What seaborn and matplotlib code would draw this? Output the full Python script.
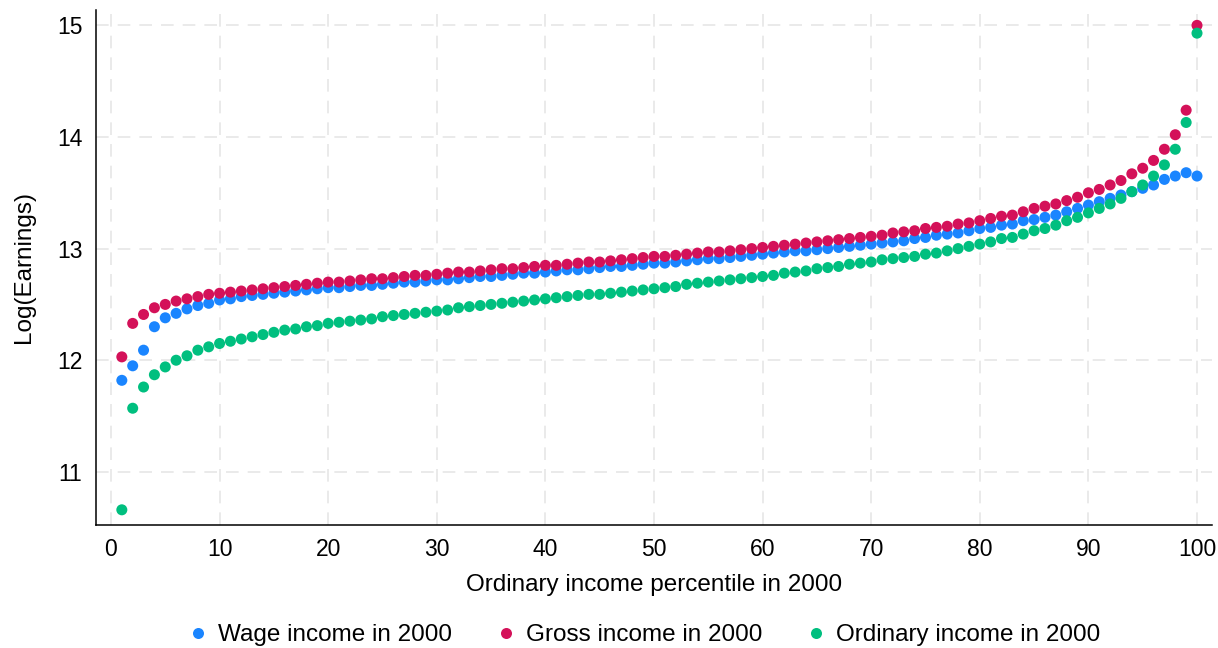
import numpy as np
import pandas as pd
import matplotlib
matplotlib.use("Agg")
import matplotlib.pyplot as plt
import seaborn as sns

# percentiles 1..100
percentile = list(range(1, 101))

wage_2000 = [
    11.82, 11.95, 12.09, 12.30, 12.38, 12.42, 12.46, 12.49, 12.51, 12.54,
    12.55, 12.57, 12.58, 12.59, 12.60, 12.61, 12.62, 12.63, 12.64, 12.65,
    12.65, 12.66, 12.67, 12.67, 12.68, 12.69, 12.70, 12.70, 12.71, 12.72,
    12.72, 12.73, 12.74, 12.75, 12.75, 12.76, 12.77, 12.78, 12.78, 12.79,
    12.80, 12.81, 12.81, 12.82, 12.83, 12.84, 12.84, 12.85, 12.86, 12.87,
    12.87, 12.88, 12.89, 12.90, 12.91, 12.91, 12.92, 12.93, 12.94, 12.95,
    12.96, 12.97, 12.98, 12.98, 12.99, 13.00, 13.01, 13.02, 13.03, 13.04,
    13.05, 13.06, 13.07, 13.09, 13.10, 13.12, 13.13, 13.14, 13.16, 13.18,
    13.19, 13.21, 13.22, 13.25, 13.26, 13.28, 13.30, 13.33, 13.36, 13.39,
    13.42, 13.45, 13.48, 13.51, 13.54, 13.57, 13.62, 13.65, 13.68, 13.65,
]

gross_2000 = [
    12.03, 12.33, 12.41, 12.47, 12.50, 12.53, 12.55, 12.57, 12.59, 12.60,
    12.61, 12.62, 12.63, 12.64, 12.65, 12.66, 12.67, 12.68, 12.69, 12.70,
    12.70, 12.71, 12.72, 12.73, 12.73, 12.74, 12.75, 12.76, 12.76, 12.77,
    12.78, 12.79, 12.79, 12.80, 12.81, 12.82, 12.82, 12.83, 12.84, 12.85,
    12.85, 12.86, 12.87, 12.88, 12.88, 12.89, 12.90, 12.91, 12.92, 12.93,
    12.93, 12.94, 12.95, 12.96, 12.97, 12.97, 12.98, 12.99, 13.00, 13.01,
    13.02, 13.03, 13.04, 13.05, 13.06, 13.07, 13.08, 13.09, 13.10, 13.11,
    13.12, 13.14, 13.15, 13.16, 13.18, 13.19, 13.20, 13.22, 13.23, 13.25,
    13.27, 13.29, 13.30, 13.33, 13.36, 13.38, 13.40, 13.43, 13.46, 13.50,
    13.53, 13.57, 13.61, 13.67, 13.72, 13.79, 13.89, 14.02, 14.24, 15.00,
]

ordinary_2000 = [
    10.66, 11.57, 11.76, 11.87, 11.94, 12.00, 12.04, 12.09, 12.12, 12.15,
    12.17, 12.19, 12.21, 12.23, 12.25, 12.27, 12.28, 12.30, 12.31, 12.33,
    12.34, 12.35, 12.36, 12.37, 12.39, 12.40, 12.41, 12.42, 12.43, 12.44,
    12.45, 12.47, 12.48, 12.49, 12.50, 12.51, 12.52, 12.53, 12.54, 12.55,
    12.56, 12.57, 12.58, 12.59, 12.59, 12.60, 12.61, 12.62, 12.63, 12.64,
    12.65, 12.66, 12.68, 12.69, 12.70, 12.71, 12.72, 12.73, 12.74, 12.75,
    12.76, 12.78, 12.79, 12.80, 12.82, 12.83, 12.84, 12.86, 12.87, 12.88,
    12.90, 12.91, 12.92, 12.93, 12.95, 12.96, 12.98, 13.00, 13.02, 13.04,
    13.06, 13.09, 13.10, 13.13, 13.16, 13.18, 13.21, 13.25, 13.28, 13.32,
    13.36, 13.40, 13.45, 13.51, 13.57, 13.65, 13.75, 13.89, 14.13, 14.93,
]

series_names = ["Wage income in 2000", "Gross income in 2000", "Ordinary income in 2000"]
colors = ["#1a85ff", "#d41159", "#00bf7f"]

df = pd.concat([
    pd.DataFrame({"pct": percentile, "val": vals, "series": name})
    for name, vals in zip(series_names, [wage_2000, gross_2000, ordinary_2000])
], ignore_index=True)

sns.set_style("white")
plt.rcParams["font.family"] = ["Liberation Sans", "DejaVu Sans"]
plt.rcParams.update({"text.color": "black", "axes.labelcolor": "black",
                     "xtick.color": "black", "ytick.color": "black"})

fig = plt.figure(figsize=(12.18, 6.48), dpi=100)
ax = fig.add_axes([0.0788, 0.190, 0.916, 0.795])

sns.scatterplot(data=df, x="pct", y="val", hue="series", hue_order=series_names,
                palette=colors, s=63, linewidth=0, alpha=1, ax=ax, legend=True, zorder=3)

ax.set_xlim(-1.38, 101.35)
ax.set_ylim(10.525, 15.14)
ax.set_xticks(range(0, 101, 10))
ax.set_yticks([11, 12, 13, 14, 15])
ax.grid(True, linestyle=(0, (7, 5)), color="#e8e8e8", linewidth=1.3, zorder=0)
ax.set_axisbelow(True)
for side in ["top", "right"]:
    ax.spines[side].set_visible(False)
for side in ["left", "bottom"]:
    ax.spines[side].set_color("black")
    ax.spines[side].set_linewidth(1.1)
ax.tick_params(axis="both", direction="out", length=5.8, width=1.1, color="black",
               labelsize=16.5, pad=4)
ax.set_xlabel("Ordinary income percentile in 2000", fontsize=17.5, labelpad=9)
ax.set_ylabel("Log(Earnings)", fontsize=17.5, labelpad=16)

handles, labels = ax.get_legend_handles_labels()
ax.legend_.remove()
fig.legend(handles, labels, loc="center", bbox_to_anchor=(0.528, 0.02), ncol=3,
           frameon=False, fontsize=17.5, markerscale=1.0, handlelength=1.0,
           handletextpad=0.33, columnspacing=1.7, borderpad=0, borderaxespad=0)

fig.savefig("out.png", dpi=100)
